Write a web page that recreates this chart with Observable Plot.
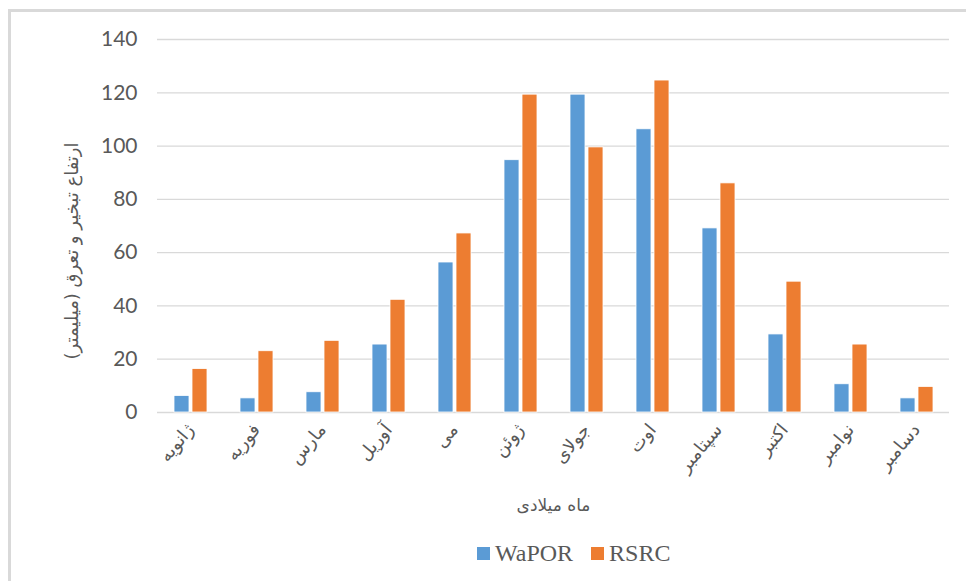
<!DOCTYPE html>
<html><head><meta charset="utf-8">
<script src="https://cdn.jsdelivr.net/npm/d3@7"></script>
<script src="https://cdn.jsdelivr.net/npm/@observablehq/plot@0.6"></script>
<style>
body{margin:0;background:#fff;width:966px;height:581px;overflow:hidden;position:relative;}
#frame{position:absolute;left:8px;top:9px;right:0;bottom:-10px;border-top:3px solid #d9d9d9;border-left:3px solid #d9d9d9;}
#chart{position:absolute;left:0;top:0;}
#legend{position:absolute;top:540px;left:477px;display:flex;align-items:center;font-family:"Liberation Serif",serif;font-size:24px;color:#595959;}
#legend .sw{width:13px;height:13px;display:inline-block;margin-right:5px;}
#legend .it{display:flex;align-items:center;margin-right:18px;}
g[aria-label="fx-axis tick label"] text{font-family:"DejaVu Sans",sans-serif;font-size:18px;}
g[aria-label="fx-axis label"] text{font-family:"DejaVu Sans",sans-serif;font-size:17px;}
g[aria-label="y-axis label"] text{font-family:"DejaVu Sans",sans-serif;font-size:18px;direction:rtl;unicode-bidi:embed;}
</style>
</head><body>
<div id="frame"></div>
<div id="chart"></div>
<div id="legend"></div>
<script>
const months = ["ژانویه","فوریه","مارس","آوریل","می","ژوئن","جولای","اوت","سپتامبر","اکتبر","نوامبر","دسامبر"];
const series = ["WaPOR","RSRC"];
const wapor = [6.2,5.3,7.6,25.5,56.3,94.7,119.3,106.3,69.1,29.3,10.6,5.3];
const rsrc  = [16.3,23.0,26.9,42.3,67.2,119.3,99.5,124.6,86.0,49.1,25.5,9.6];
const yTicks = [0,20,40,60,80,100,120,140];
const colors = ["#5B9BD5","#ED7D31"];
const yTitle = "ارتفاع تبخیر و تعرق (میلیمتر)";
const xTitle = "ماه میلادی";

const rows = [];
months.forEach((m,i)=>{
  rows.push({month:m, series:series[0], value:wapor[i]});
  rows.push({month:m, series:series[1], value:rsrc[i]});
});

const chart = Plot.plot({
  width:966, height:530,
  marginTop:39, marginBottom:118, marginLeft:155, marginRight:16,
  style:{fontFamily:"Lato, sans-serif", color:"#595959", background:"transparent", overflow:"visible"},
  fx:{domain:months, paddingInner:0, paddingOuter:0, label:xTitle},
  x:{domain:series, paddingInner:0.19, paddingOuter:0.89, axis:null},
  y:{domain:[0,140], label:yTitle},
  color:{domain:series, range:colors},
  marks:[
    Plot.gridY(yTicks,{stroke:"#d9d9d9", strokeOpacity:1, strokeWidth:1.3}),
    Plot.barY(rows,{fx:"month", x:"series", y:"value", fill:"series", stroke:"white", strokeWidth:0.8}),
    Plot.axisY(yTicks,{tickSize:0, tickPadding:20, fontSize:21, label:yTitle, labelAnchor:"center", labelOffset:92, labelArrow:"none"}),
    Plot.axisFx({anchor:"bottom", tickSize:0, tickPadding:14, tickRotate:-50, label:xTitle, labelAnchor:"center", labelOffset:98, labelArrow:"none"})
  ]
});
document.getElementById("chart").appendChild(chart);
// shift the y-axis title down along its own baseline, as in the reference
chart.querySelectorAll('g[aria-label="y-axis label"] text').forEach(t=>t.setAttribute("dx","-25"));

const leg = document.getElementById("legend");
series.forEach((s,i)=>{
  const it = document.createElement("span"); it.className="it";
  const sw = document.createElement("span"); sw.className="sw"; sw.style.background=colors[i];
  it.appendChild(sw); it.appendChild(document.createTextNode(s));
  leg.appendChild(it);
});
</script>
</body></html>
